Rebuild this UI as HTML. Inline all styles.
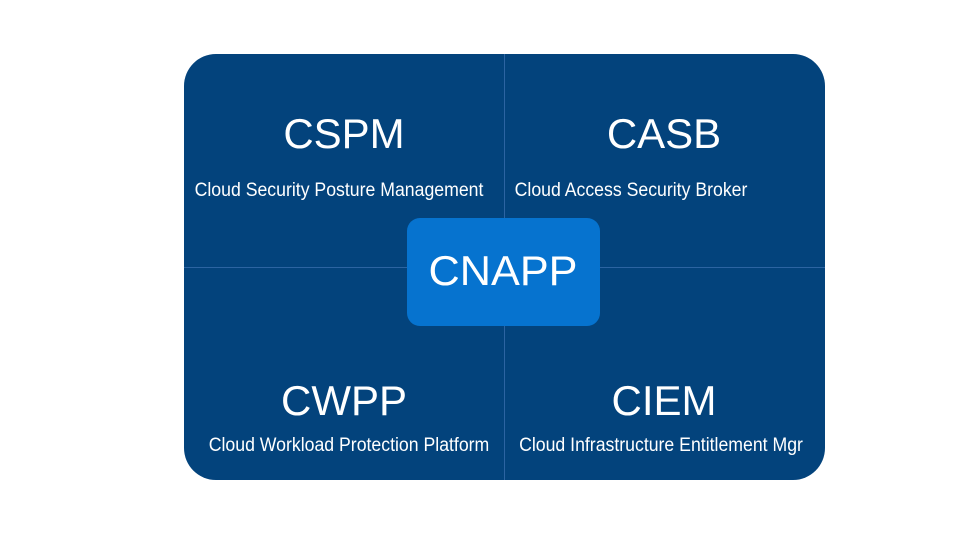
<!DOCTYPE html>
<html><head><style>
body{margin:0;width:960px;height:540px;background:#fff;position:relative;overflow:hidden;font-family:"Liberation Sans",sans-serif;}
.box{position:absolute;left:184px;top:54px;width:641px;height:426px;background:#03437c;border-radius:32px;overflow:hidden;}
.vl{position:absolute;left:320px;top:0;width:1px;height:426px;background:#2c64a2;}
.hl{position:absolute;left:0;top:213px;width:641px;height:1px;background:#2c64a2;}
.t{position:absolute;color:#fff;white-space:nowrap;transform:translateX(-50%) scaleX(1);transform-origin:center;line-height:1;}
.big{font-size:42px;}
.sm{font-size:19px;transform:translateX(-50%) scaleX(0.93);}
.c{position:absolute;left:407px;top:218px;width:193px;height:108px;background:#0673cf;border-radius:13px;}
</style></head><body>
<div class="box"><div class="vl"></div><div class="hl"></div></div>
<div class="c"></div>
<div class="t big" style="left:344px;top:113px">CSPM</div>
<div class="t big" style="left:664px;top:113px">CASB</div>
<div class="t big" style="left:344px;top:380px">CWPP</div>
<div class="t big" style="left:664px;top:380px">CIEM</div>
<div class="t big" style="left:503px;top:250px;transform:translateX(-50%) scaleX(1.03)">CNAPP</div>
<div class="t sm" style="left:339px;top:181px">Cloud Security Posture Management</div>
<div class="t sm" style="left:631px;top:181px">Cloud Access Security Broker</div>
<div class="t sm" style="left:349px;top:436px">Cloud Workload Protection Platform</div>
<div class="t sm" style="left:661px;top:436px">Cloud Infrastructure Entitlement Mgr</div>
</body></html>
